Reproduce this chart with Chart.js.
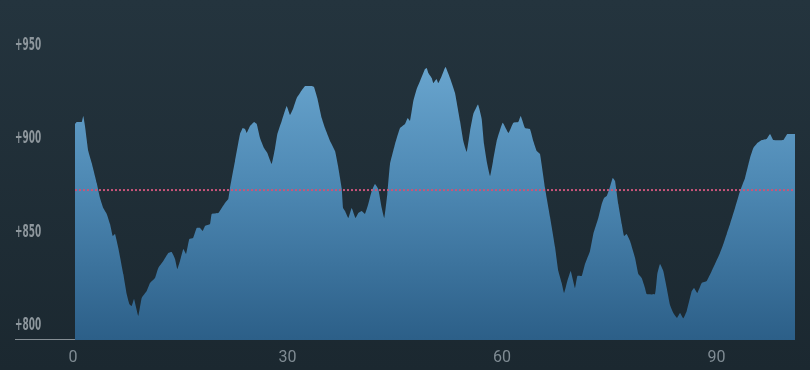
<!DOCTYPE html>
<html>
<head>
<meta charset="utf-8">
<script src="https://cdn.jsdelivr.net/npm/chart.js@4.4.1/dist/chart.umd.min.js"></script>
<style>
	html, body {
		margin: 0;
		padding: 0;
	}
	body {
		width: 810px;
		height: 370px;
		background: linear-gradient(to bottom, #24343e 0%, #1b2830 100%);
		overflow: hidden;
	}
	#wrap {
		position: relative;
		width: 810px;
		height: 370px;
	}
</style>
</head>
<body>
<div id="wrap"><canvas id="profileChart"></canvas></div>
<script>
const xPoints = [
	0.29, 0.53, 1.23, 1.45, 1.69, 2.15, 2.63, 3.33, 3.79, 4.25,
	4.73, 5.19, 5.57, 5.89, 6.35, 7.05, 7.52, 7.89, 8.22, 8.55,
	9.15, 9.62, 10.32, 10.78, 11.48, 11.94, 12.64, 13.34, 13.82, 14.28,
	14.6, 14.98, 15.44, 15.82, 16.28, 16.8, 17.31, 17.78, 18.15, 18.48,
	19.17, 19.41, 20.34, 20.81, 21.27, 21.73, 21.97, 22.67, 23.37, 23.75,
	24.07, 24.31, 24.77, 25.33, 25.71, 26.17, 26.73, 27.19, 27.8, 28.27,
	28.59, 29.2, 29.9, 30.36, 30.83, 31.3, 31.76, 32.46, 33.44, 33.72,
	34.18, 34.8, 35.26, 35.96, 36.66, 37.08, 37.59, 37.78, 38.06, 38.52,
	38.99, 39.52, 39.92, 40.39, 40.85, 41.31, 41.79, 42.25, 42.71, 43.19,
	43.55, 43.97, 44.35, 45.05, 45.75, 46.45, 46.83, 47.15, 47.61, 48.08,
	48.55, 49.24, 49.48, 49.71, 50.18, 50.41, 50.85, 51.1, 51.58, 52.11,
	52.74, 53.44, 54.14, 54.6, 55.08, 55.54, 56.0, 56.66, 57.17, 57.5,
	57.92, 58.34, 58.76, 59.27, 60.11, 60.92, 61.59, 62.29, 62.63, 63.23,
	63.93, 64.39, 64.87, 65.33, 66.03, 66.73, 67.43, 67.89, 68.36, 68.69,
	69.15, 69.62, 70.22, 70.55, 71.16, 71.62, 72.32, 72.78, 73.48, 73.96,
	74.28, 74.66, 75.02, 75.5, 75.82, 76.28, 76.76, 77.08, 77.45, 77.92,
	78.62, 79.08, 79.55, 80.01, 80.25, 81.41, 81.73, 82.11, 82.57, 83.05,
	83.51, 83.97, 84.49, 84.91, 85.37, 85.85, 86.55, 86.87, 87.33, 87.94,
	88.64, 89.34, 89.8, 90.5, 90.97, 91.44, 91.9, 92.6, 93.3, 94.0,
	94.7, 95.16, 95.72, 96.34, 97.03, 97.5, 97.96, 99.36, 99.92, 100.99,
];

const yPoints = [
	915.7, 916.8, 916.8, 920.0, 914.6, 901.2, 894.8, 884.1, 876.1, 870.7,
	867.5, 862.1, 855.7, 856.8, 849.3, 835.3, 824.6, 819.3, 818.2, 822.0,
	812.9, 822.5, 826.2, 830.5, 833.2, 838.6, 842.3, 846.6, 847.1, 843.4,
	838.0, 842.3, 848.7, 846.1, 854.1, 854.6, 860.0, 860.0, 858.4, 861.1,
	862.1, 867.5, 868.0, 870.7, 873.4, 875.5, 881.4, 895.9, 910.3, 913.5,
	913.0, 910.9, 914.6, 916.8, 915.7, 908.2, 902.8, 900.2, 894.3, 902.8,
	910.3, 917.3, 925.3, 920.5, 924.3, 929.6, 932.3, 936.0, 936.0, 935.5,
	929.6, 918.9, 913.5, 906.6, 901.2, 893.2, 881.4, 870.7, 869.1, 865.3,
	870.7, 865.3, 868.0, 869.1, 867.5, 872.8, 879.8, 883.6, 880.9, 870.7,
	865.3, 878.2, 894.3, 905.0, 913.5, 915.7, 918.9, 917.3, 928.0, 934.4,
	938.7, 945.1, 945.7, 943.0, 940.3, 937.6, 939.8, 937.6, 941.4, 946.2,
	940.3, 932.3, 917.3, 906.6, 900.7, 911.9, 921.0, 926.1, 918.4, 905.0,
	894.8, 887.8, 895.9, 906.6, 916.4, 910.9, 916.4, 916.8, 920.0, 913.5,
	912.9, 906.6, 901.2, 899.6, 881.4, 865.9, 849.8, 837.0, 830.5, 825.2,
	831.6, 837.0, 827.9, 834.3, 834.3, 840.7, 847.7, 856.8, 865.3, 872.8,
	876.1, 877.1, 880.9, 886.8, 885.2, 872.8, 862.1, 855.7, 856.8, 853.0,
	843.9, 835.3, 833.2, 827.9, 824.6, 824.6, 835.3, 840.7, 837.0, 827.9,
	818.7, 814.5, 811.9, 814.5, 811.6, 815.5, 826.2, 827.9, 825.2, 830.5,
	831.6, 837.0, 840.7, 846.6, 851.4, 856.8, 862.1, 870.7, 879.8, 886.8,
	897.5, 902.8, 905.5, 907.1, 907.7, 910.3, 907.1, 907.1, 910.3, 910.3,
];

const averageValue = 880.3;

const xTickValues = [0, 30, 60, 90];
const yTickValues = [800, 850, 900, 950];

const ctx = document.getElementById("profileChart").getContext("2d");

function buildProfileData() {
	return xPoints.map((x, i) => ({ x: x, y: yPoints[i] }));
}

function buildAverageData() {
	return [
		{ x: xPoints[0], y: averageValue },
		{ x: xPoints[xPoints.length - 1], y: averageValue },
	];
}

function areaGradient(context) {
	const chart = context.chart;
	const { chartArea, scales } = chart;
	if (!chartArea) {
		return "#4a86b2";
	}
	const top = scales.y.getPixelForValue(950);
	const gradient = chart.ctx.createLinearGradient(0, top, 0, chartArea.bottom);
	gradient.addColorStop(0, "#6aa6cf");
	gradient.addColorStop(0.45, "#4d88b3");
	gradient.addColorStop(1, "#2c5f88");
	return gradient;
}

function fixedTicks(values) {
	return (axis) => {
		axis.ticks = values.map((v) => ({ value: v }));
	};
}

// short grey base line, left of where the data starts
const baseLine = {
	id: "baseLine",
	beforeDatasetsDraw(chart) {
		const c = chart.ctx;
		const area = chart.chartArea;
		const xEnd = chart.scales.x.getPixelForValue(xPoints[0]);
		c.save();
		c.strokeStyle = "#858e94";
		c.lineWidth = 1;
		c.beginPath();
		c.moveTo(area.left, area.bottom - 0.5);
		c.lineTo(xEnd, area.bottom - 0.5);
		c.stroke();
		c.restore();
	},
};

// y labels in a narrow face: draw the y scale's ticks squeezed horizontally
const condensedYLabels = {
	id: "condensedYLabels",
	afterDraw(chart) {
		const scale = chart.scales.y;
		const c = chart.ctx;
		c.save();
		c.fillStyle = "#8e979d";
		c.font = "bold 16px 'DejaVu Sans Condensed', sans-serif";
		c.textAlign = "left";
		c.textBaseline = "middle";
		scale.ticks.forEach((tick) => {
			const y = scale.getPixelForValue(tick.value) - 14.5;
			c.save();
			c.translate(chart.chartArea.left, y);
			c.scale(0.62, 1.05);
			c.fillText("+" + tick.value, 0, 0);
			c.restore();
		});
		c.restore();
	},
};

const config = {
	type: "line",
	data: {
		datasets: [
			{
				label: "average",
				data: buildAverageData(),
				borderColor: "#c9557a",
				borderWidth: 2,
				borderDash: [2, 2],
				pointRadius: 0,
				fill: false,
			},
			{
				label: "profile",
				data: buildProfileData(),
				backgroundColor: areaGradient,
				borderWidth: 0,
				pointRadius: 0,
				tension: 0.1,
				fill: "start",
			},
		],
	},
	options: {
		responsive: true,
		maintainAspectRatio: false,
		animation: false,
		layout: {
			padding: { left: 15, right: 15, top: 0, bottom: 0 },
		},
		plugins: {
			legend: { display: false },
			tooltip: { enabled: false },
		},
		scales: {
			x: {
				type: "linear",
				min: -8.1,
				max: 100.99,
				afterBuildTicks: fixedTicks(xTickValues),
				afterFit: (scale) => {
					scale.height = 30;
					scale.paddingLeft = 0;
					scale.paddingRight = 0;
				},
				grid: { display: false, drawTicks: false },
				border: { display: false },
				ticks: {
					padding: 8,
					color: "#7f8b93",
					font: { family: "Roboto, 'Noto Sans', sans-serif", size: 16 },
					maxRotation: 0,
				},
			},
			y: {
				type: "linear",
				min: 800,
				max: 982.1,
				afterBuildTicks: fixedTicks(yTickValues),
				afterFit: (scale) => {
					scale.width = 0;
					scale.paddingTop = 0;
					scale.paddingBottom = 0;
				},
				grid: { display: false, drawTicks: false },
				border: { display: false },
				ticks: { display: false },
			},
		},
	},
	plugins: [baseLine, condensedYLabels],
};

const myChart = new Chart(ctx, config);
</script>
</body>
</html>
